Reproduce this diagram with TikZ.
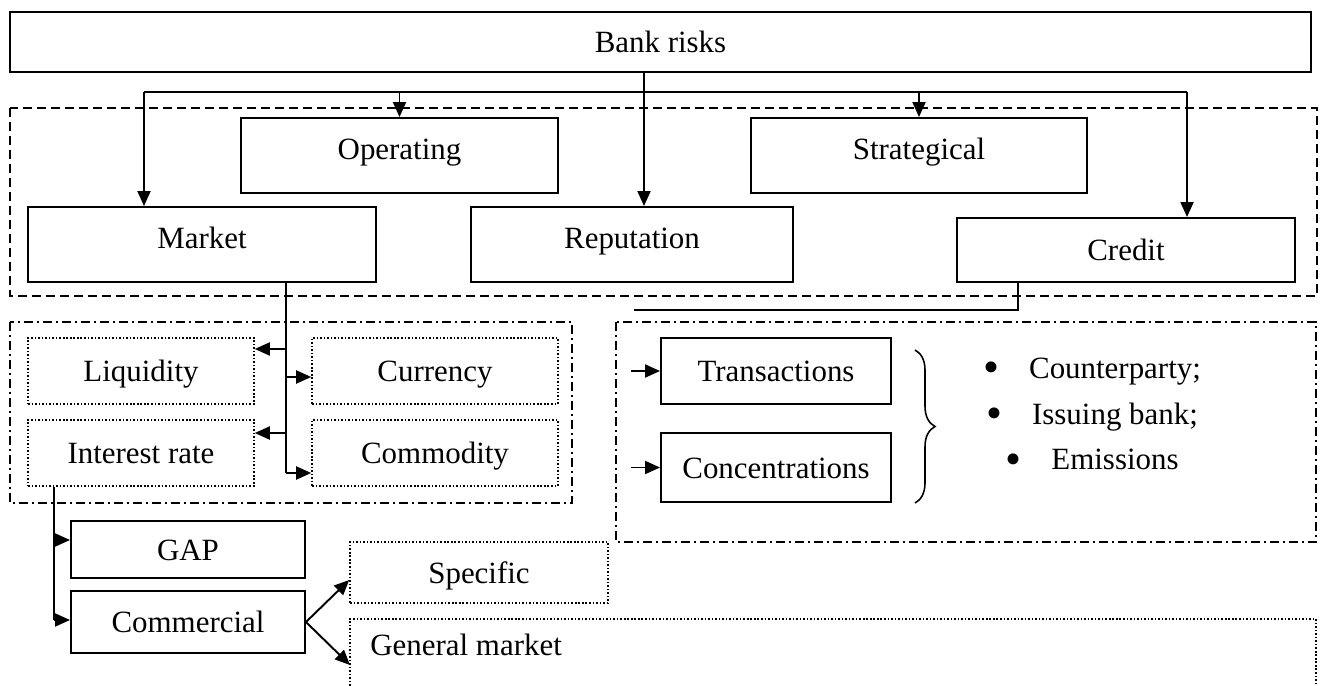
\documentclass[tikz,border=0pt]{standalone}
\usepackage{fontspec}
\setmainfont{Liberation Serif}
\usetikzlibrary{shapes,arrows.meta,decorations.pathreplacing}
\tikzstyle{box}=[rectangle,draw=black,line width=1.1pt,text height=12pt,text depth=0pt]
\tikzstyle{high}=[text depth=8pt]
\tikzstyle{dotbox}=[rectangle,draw=black,line width=.9pt,dash pattern=on .9pt off 1.1pt,text height=12pt,text depth=0pt]
\tikzstyle{ln}=[line width=1.1pt]
\tikzstyle{arr}=[line width=1.1pt,-{Triangle[length=.3cm,width=.26cm]}]
\tikzstyle{dashframe}=[line width=1.1pt,dash pattern=on .18cm off .1cm]
\tikzstyle{dotdashframe}=[line width=1pt,dash pattern=on .18cm off .08cm on .04cm off .08cm]
\newcommand{\bull}{\raisebox{-2.5pt}{\fontsize{26}{21}\selectfont\textbullet}}

\begin{document}
\begin{tikzpicture}[font=\fontsize{17.6}{21}\selectfont]
\useasboundingbox (0,0) rectangle (26.48,-13.72);
% group frames
\draw[dashframe] (0.2,-2.16) rectangle (26.34,-5.92);
\draw[dotdashframe] (0.2,-6.44) rectangle (11.44,-10.06);
\draw[dotdashframe] (12.32,-6.44) rectangle (26.32,-10.84);

\node[box,minimum width=26.02cm,minimum height=1.2cm] (bank) at (13.21,-0.84) {Bank risks};
\node[box,high,minimum width=6.34cm,minimum height=1.5cm] (oper) at (7.99,-3.11) {Operating};
\node[box,high,minimum width=6.72cm,minimum height=1.5cm] (strat) at (18.38,-3.11) {Strategical};
\node[box,high,minimum width=6.96cm,minimum height=1.5cm] (market) at (4.04,-4.89) {Market};
\node[box,high,minimum width=6.44cm,minimum height=1.5cm] (rep) at (12.64,-4.89) {Reputation};
\node[box,minimum width=6.76cm,minimum height=1.28cm] (credit) at (22.52,-5.0) {Credit};

\node[dotbox,minimum width=4.52cm,minimum height=1.32cm] (liq) at (2.82,-7.42) {Liquidity};
\node[dotbox,minimum width=4.92cm,minimum height=1.32cm] (curr) at (8.7,-7.42) {Currency};
\node[dotbox,minimum width=4.52cm,minimum height=1.32cm] (intr) at (2.82,-9.06) {Interest rate};
\node[dotbox,minimum width=4.92cm,minimum height=1.32cm] (comm) at (8.7,-9.06) {Commodity};

\node[box,minimum width=4.6cm,minimum height=1.32cm] (trans) at (15.52,-7.42) {Transactions};
\node[box,minimum width=4.6cm,minimum height=1.38cm] (conc) at (15.52,-9.35) {Concentrations};
\node[align=center] (list) at (21.84,-8.32) {\bull\hspace{.6cm}Counterparty;\\[5pt]
  \bull\hspace{.6cm}Issuing bank;\\[5pt] \bull\hspace{.6cm}Emissions};

\node[box,minimum width=4.68cm,minimum height=1.14cm] (gap) at (3.76,-10.99) {GAP};
\node[box,minimum width=4.68cm,minimum height=1.24cm] (comml) at (3.76,-12.44) {Commercial};
\node[dotbox,minimum width=5.16cm,minimum height=1.22cm] (spec) at (9.58,-11.45) {Specific};
\node[anchor=west,inner sep=0pt] (gen) at (7.4,-12.9) {General market};
\draw[dotbox] (7.0,-13.72) |- (26.32,-12.38) -- (26.32,-13.72);

% top fork
\coordinate (fl) at (2.88,-1.84);
\coordinate (fr) at (23.74,-1.84);
\draw[ln] (fl) -- (fr);
\draw[arr] (fl) -- (fl |- market.north);
\draw[arr] (fr) -- (fr |- credit.north);
\draw[arr] (oper.north |- fl) -- (oper.north);
\draw[arr] (strat.north |- fl) -- (strat.north);
\draw[arr] (bank.south -| 12.88,0) -- (rep.north -| 12.88,0);

% market branches
\coordinate (ms) at (5.72,-9.46);
\coordinate (m1) at (5.72,-6.98);
\coordinate (m2) at (5.72,-7.54);
\coordinate (m3) at (5.72,-8.66);
\draw[ln] (market.south -| ms) -- (ms);
\draw[arr] (m1) -- (m1 -| liq.east);
\draw[arr] (m2) -- (m2 -| curr.west);
\draw[arr] (m3) -- (m3 -| intr.east);
\draw[arr] (ms) -- (ms -| comm.west);

% interest rate branches
\coordinate (is) at (1.08,-12.4);
\coordinate (i1) at (1.08,-10.8);
\draw[ln] (intr.south -| is) -- (is);
\draw[arr] (i1) -- (i1 -| gap.west);
\draw[arr] (is) -- (is -| comml.west);
\coordinate (g) at (7.0,-13.3);
\draw[arr] (comml.east) -- ([yshift=-.15cm]spec.west);
\draw[arr] (comml.east) -- (g);

% credit branches
\coordinate (cr) at (12.68,-6.2);
\draw[ln] (credit.south -| 20.36,0) |- (cr);
\draw[arr] ([xshift=-.58cm]trans.west) -- (trans.west);
\draw[arr] ([xshift=-.58cm]conc.west) -- (conc.west);
\draw[line width=.9pt,decorate,decoration={brace,amplitude=.4cm}] (18.3,-7.0) -- (18.3,-10.06);
\end{tikzpicture}
\end{document}
